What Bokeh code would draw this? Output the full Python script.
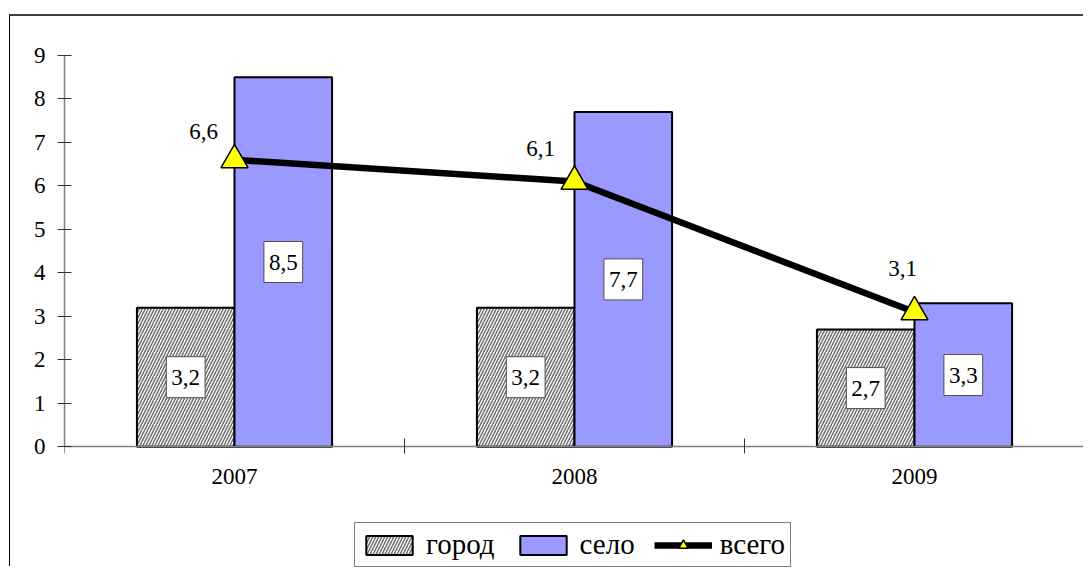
from bokeh.plotting import figure
from bokeh.models import (ColumnDataSource, FixedTicker, Range1d, Legend, LegendItem)
from bokeh.core.properties import value
from bokeh.embed import file_html
from bokeh.resources import INLINE

years = ["2007", "2008", "2009"]
gorod = [3.2, 3.2, 2.7]
selo = [8.5, 7.7, 3.3]
vsego = [6.6, 6.1, 3.1]
y_ticks = [0, 1, 2, 3, 4, 5, 6, 7, 8, 9]

FONT = "Liberation Serif"
BAR_W = 0.287
Y_MIN = -2.8   # room below the x-axis for the year labels and legend

def fmt(v):
    return ("%.1f" % v).replace(".", ",")

centers = [i + 0.5 for i in range(len(years))]

p = figure(width=1074, height=552, output_backend="svg", toolbar_location=None,
           x_range=Range1d(0, 3), y_range=Range1d(Y_MIN, 9),
           min_border_left=54, min_border_right=0, min_border_top=39, min_border_bottom=0)
p.styles = {"border-left": "1px solid #000000", "border-top": "2px solid #404040",
            "margin-left": "9px", "margin-top": "14px"}
p.outline_line_color = None
p.grid.visible = False
p.background_fill_color = "white"
p.border_fill_color = "white"

src_g = ColumnDataSource(dict(x=[c - BAR_W / 2 for c in centers], top=gorod,
                              mid=[v / 2 for v in gorod], lab=[fmt(v) for v in gorod]))
src_s = ColumnDataSource(dict(x=[c + BAR_W / 2 for c in centers], top=selo,
                              mid=[v / 2 for v in selo], lab=[fmt(v) for v in selo]))

rg = p.vbar(x="x", top="top", bottom=0, width=BAR_W, source=src_g,
            fill_color="white", hatch_pattern="/", hatch_color="#6e6e6e",
            hatch_scale=6, hatch_weight=1.5, line_color="black", line_width=2)
rs = p.vbar(x="x", top="top", bottom=0, width=BAR_W, source=src_s,
            fill_color="#9999FF", line_color="black", line_width=2)

for src in (src_g, src_s):
    p.text(x="x", y="mid", text="lab", source=src, text_align="center",
           text_baseline="middle", text_font=value(FONT), text_font_size="23px",
           text_color="black", background_fill_color="white",
           border_line_color="#505050", border_line_width=1, padding=(5, 5, 13, 13))

src_v = ColumnDataSource(dict(x=centers, y=vsego, lab=[fmt(v) for v in vsego],
                              dx=[-31, -34, -12], dy=[-28, -33, -44]))
rl = p.line(x="x", y="y", source=src_v, line_color="black", line_width=6.5)
rt = p.scatter(x="x", y="y", source=src_v, marker="triangle", size=27,
               fill_color="#FFFF00", line_color="black", line_width=1.5)
p.text(x="x", y="y", text="lab", source=src_v, x_offset="dx", y_offset="dy",
       text_align="center", text_baseline="middle", text_font=value(FONT),
       text_font_size="23px", text_color="black")

# axes
xa = p.xaxis[0]
xa.fixed_location = 0
xa.ticker = FixedTicker(ticks=centers, minor_ticks=[0, 1, 2, 3])
xa.major_label_overrides = {c: y for c, y in zip(centers, years)}
xa.major_tick_in = 0
xa.major_tick_out = 0
xa.minor_tick_in = 8
xa.minor_tick_out = 7
xa.minor_tick_line_color = "#333333"
xa.axis_line_color = "#808080"
xa.axis_line_width = 1.5
xa.major_label_text_font = FONT
xa.major_label_text_font_size = "23px"
xa.major_label_text_color = "black"
xa.major_label_standoff = 15

ya = p.yaxis[0]
ya.bounds = (0, 9)
ya.ticker = FixedTicker(ticks=y_ticks, minor_ticks=[])
ya.major_tick_in = 7
ya.major_tick_out = 7
ya.major_tick_line_color = "#333333"
ya.axis_line_color = "#808080"
ya.axis_line_width = 1.5
ya.major_label_text_font = FONT
ya.major_label_text_font_size = "23px"
ya.major_label_text_color = "black"
ya.major_label_standoff = 12

legend = Legend(items=[LegendItem(label="город", renderers=[rg]),
                       LegendItem(label="село", renderers=[rs]),
                       LegendItem(label="всего", renderers=[rl, rt])],
                orientation="horizontal", location=(290, 1),
                label_text_font=FONT, label_text_font_size="29px",
                label_text_color="black", glyph_width=58, glyph_height=24,
                label_standoff=8, spacing=19, padding=5, margin=0,
                border_line_color="black", border_line_width=1,
                background_fill_color="white", background_fill_alpha=1)
p.add_layout(legend, "center")

open("out.html", "w").write(file_html(p, INLINE))
